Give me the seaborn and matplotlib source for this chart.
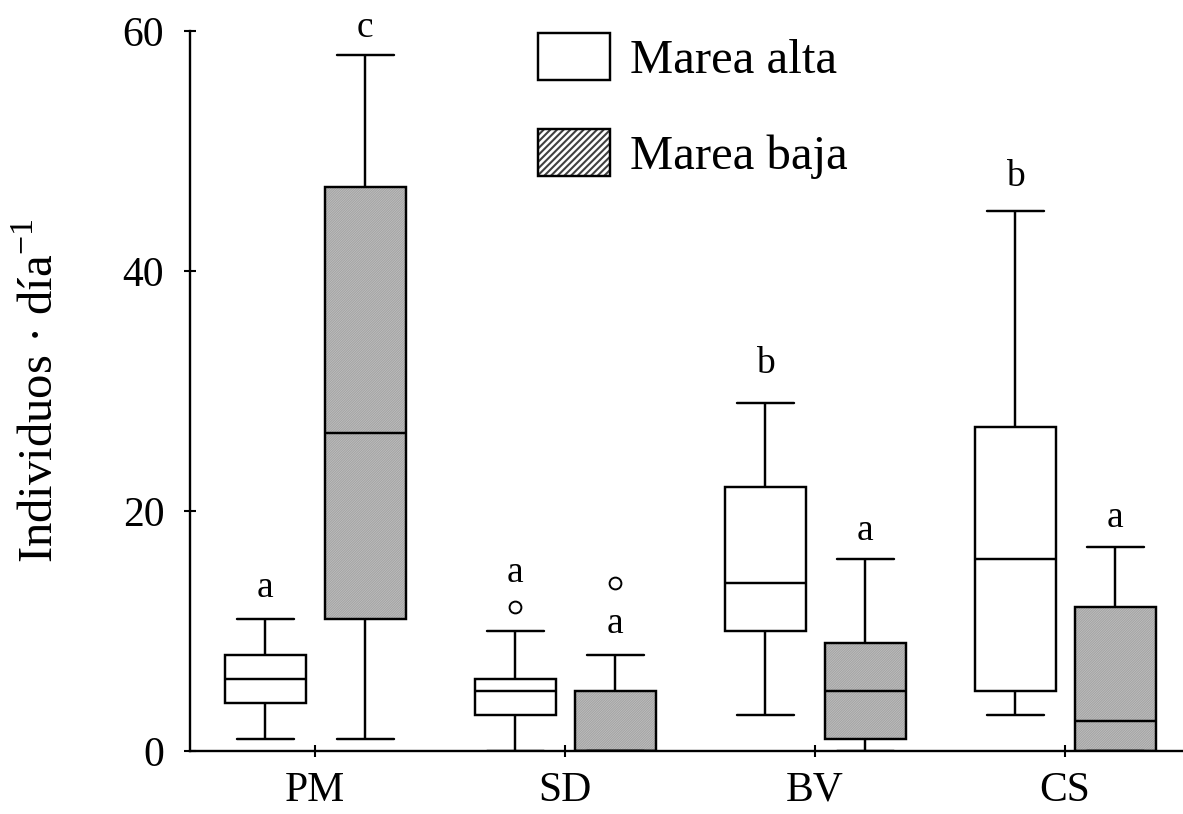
import numpy as np
import pandas as pd
import seaborn as sns
import matplotlib
matplotlib.use("Agg")
import matplotlib.pyplot as plt
import matplotlib.colors as mcolors
from matplotlib.patches import Patch

# Sites and tide conditions
sites = ["PM", "SD", "BV", "CS"]
tides = ["Marea alta", "Marea baja"]

# Daily counts per site and tide (individuos / día)
pm_alta = [1, 4, 6, 8, 11]
pm_baja = [1, 11, 26.5, 47, 58]
sd_alta = [0, 2, 3, 4, 5, 5, 6, 10, 12]
sd_baja = [0, 0, 0, 0, 0, 2, 5, 8, 14]
bv_alta = [3, 10, 14, 22, 29]
bv_baja = [0, 1, 5, 9, 16]
cs_alta = [3, 5, 16, 27, 45]
cs_baja = [0, 0, 2.5, 12, 17]

# Significance letters (Tukey groups)
letters_alta = ["a", "a", "b", "b"]
letters_baja = ["c", "a", "a", "a"]

y_ticks = [0, 20, 40, 60]

groups = {
    ("PM", "Marea alta"): pm_alta, ("PM", "Marea baja"): pm_baja,
    ("SD", "Marea alta"): sd_alta, ("SD", "Marea baja"): sd_baja,
    ("BV", "Marea alta"): bv_alta, ("BV", "Marea baja"): bv_baja,
    ("CS", "Marea alta"): cs_alta, ("CS", "Marea baja"): cs_baja,
}
rows = [(s, t, v) for (s, t), vals in groups.items() for v in vals]
df = pd.DataFrame(rows, columns=["sitio", "marea", "ind"])

sns.set_theme(style="ticks")
plt.rcParams["font.family"] = ["Liberation Serif", "DejaVu Serif"]
plt.rcParams["mathtext.fontset"] = "custom"
plt.rcParams["mathtext.rm"] = "Liberation Serif"
plt.rcParams["hatch.linewidth"] = 0.8
for key in ("text.color", "axes.labelcolor", "xtick.color", "ytick.color",
            "axes.edgecolor"):
    plt.rcParams[key] = "black"

GRAY = "#c6c6c6"
LW = 1.75

fig = plt.figure(figsize=(11.83, 8.14), dpi=100)
ax = fig.add_axes([190 / 1183, 63 / 814, 993 / 1183, 720 / 814])

sns.boxplot(
    data=df, x="sitio", y="ind", hue="marea",
    order=sites, hue_order=tides,
    palette={"Marea alta": "white", "Marea baja": GRAY},
    saturation=1, linecolor="black", linewidth=LW,
    width=0.8, gap=0.19, legend=False,
    flierprops=dict(marker="o", markerfacecolor="white",
                    markeredgecolor="black", markersize=8.5,
                    markeredgewidth=1.4),
    capwidths=0.228,
    ax=ax,
)

# Fine hatching on the low-tide boxes
for p in ax.patches:
    fc = p.get_facecolor()
    if fc[0] < 0.95:
        p.set_hatch("/" * 14)
        p._hatch_color = mcolors.to_rgba("#a4a4a4")

ax.set_xlim(-0.5, 3.472)
ax.set_ylim(0, 60)
ax.set_yticks(y_ticks)
ax.set_xticks(range(len(sites)))
ax.set_xticklabels(sites)
ax.tick_params(axis="both", direction="inout", length=9, width=1.5,
               labelsize=30, colors="black")
ax.tick_params(axis="y", pad=14)
ax.tick_params(axis="x", pad=10)
ax.set_xlabel("")
ax.set_ylabel(r"Individuos · día$^{\mathregular{-1}}$", fontsize=35)
ax.yaxis.set_label_coords(-0.128, 0.5)
for side in ("top", "right"):
    ax.spines[side].set_visible(False)
for side in ("left", "bottom"):
    ax.spines[side].set_linewidth(1.7)
    ax.spines[side].set_color("black")

# Letters above each box
offset = 0.2
alta_y = [12.8, 14.1, 31.5, 47.1]
baja_y = [59.5, 9.8, 17.6, 18.7]
for i in range(len(sites)):
    ax.text(i - offset, alta_y[i], letters_alta[i], ha="center",
            va="baseline", fontsize=27)
    ax.text(i + offset, baja_y[i], letters_baja[i], ha="center",
            va="baseline", fontsize=27)

handles = [
    Patch(facecolor="white", edgecolor="black", linewidth=LW, label=tides[0]),
    Patch(facecolor="white", edgecolor="black", linewidth=LW,
          hatch="/////", label=tides[1]),
]
leg = fig.legend(handles=handles, loc="upper left",
                 bbox_to_anchor=(538 / 1183, 1 - 33 / 814),
                 frameon=False, fontsize=35, handlelength=1.48,
                 handleheight=1.1, labelspacing=0.95, handletextpad=0.42,
                 borderpad=0, borderaxespad=0)
for h in leg.legend_handles:
    if h.get_hatch():
        h._hatch_color = mcolors.to_rgba("#404040")
        if hasattr(h, "set_hatch_linewidth"):
            h.set_hatch_linewidth(1.5)
        else:
            h._hatch_linewidth = 1.5

fig.savefig("out.png", dpi=100)
